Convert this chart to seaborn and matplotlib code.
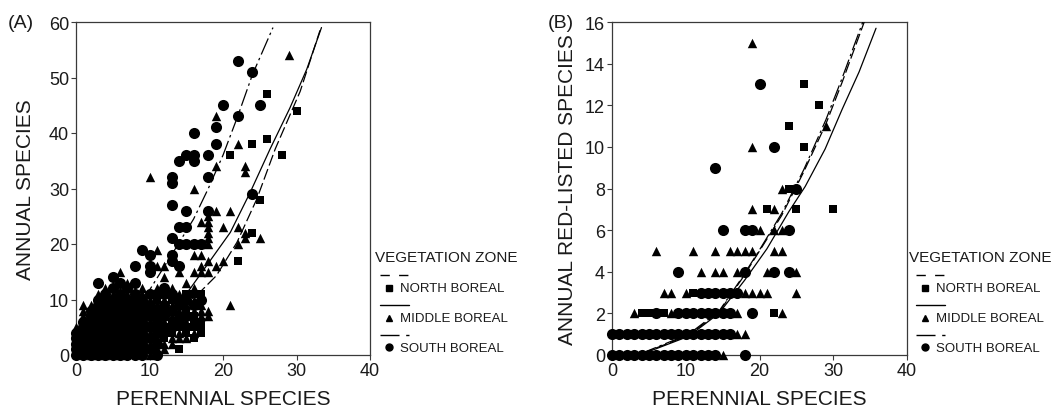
import matplotlib
matplotlib.use("Agg")
import matplotlib.pyplot as plt
import seaborn as sns
import pandas as pd
from matplotlib.lines import Line2D

sns.set_style("ticks")
plt.rcParams['font.family'] = ['Liberation Sans', 'DejaVu Sans']

# ---------------- data ----------------
zones = ["NORTH BOREAL", "MIDDLE BOREAL", "SOUTH BOREAL"]

# Panel A: (perennial, annual)
north_a = [(26, 47), (30, 44), (26, 39), (24, 38), (21, 36), (28, 36), (25, 28), (24, 22), (22, 17),
           (17, 11), (16, 11), (17, 10), (16, 9), (15, 10), (14, 9), (13, 10), (12, 8), (15, 7), (16, 6),
           (14, 6), (13, 5), (15, 5), (12, 3), (14, 1), (11, 6), (10, 8), (11, 10), (17, 6), (16, 3),
           (10, 1), (10, 5), (11, 4), (11, 7), (12, 4), (12, 7), (13, 4), (13, 6), (14, 5), (14, 7),
           (14, 10), (15, 4), (15, 8), (15, 11), (16, 5), (16, 7), (17, 5), (17, 4),
           (0, 1), (1, 3), (2, 2), (3, 1), (4, 4), (5, 3), (6, 2), (7, 5), (8, 4), (9, 3), (2, 6), (4, 8),
           (6, 6), (8, 8), (9, 9), (1, 0), (3, 5), (5, 9), (7, 1), (8, 0)]
middle_a = [(29, 54), (19, 43), (22, 38), (23, 34), (23, 33), (19, 34), (10, 32), (16, 30), (19, 26), (21, 26),
            (17, 24), (20, 23), (22, 23), (23, 22), (23, 21), (25, 21), (22, 20), (16, 18), (17, 18), (20, 17),
            (19, 16), (17, 16), (17, 15), (16, 15), (15, 13), (11, 19), (11, 16), (12, 16), (12, 14), (14, 15),
            (21, 9), (18, 20), (18, 21), (18, 22), (18, 23), (18, 24), (18, 25), (18, 15), (18, 17), (17, 8),
            (18, 7), (13, 3), (14, 3), (15, 3), (11, 1), (12, 2), (6, 15), (1, 8),
            (0, 3), (0, 5), (1, 1), (1, 5), (1, 7), (1, 9), (2, 0), (2, 4), (2, 8), (2, 9), (3, 3), (3, 7),
            (3, 9), (3, 11), (4, 0), (4, 2), (4, 6), (4, 10), (5, 1), (5, 5), (5, 7), (5, 11), (6, 0), (6, 4),
            (6, 8), (6, 10), (7, 3), (7, 7), (7, 9), (7, 11), (8, 2), (8, 6), (8, 10), (9, 1), (9, 5), (9, 7),
            (9, 11), (10, 0), (10, 2), (10, 4), (10, 6), (10, 10), (11, 3), (11, 5), (11, 9), (12, 1), (12, 6),
            (12, 10), (13, 2), (13, 7), (13, 9), (14, 4), (14, 8), (14, 11), (15, 6), (15, 9), (16, 4), (16, 8),
            (16, 10), (17, 7), (17, 9), (17, 11), (18, 8), (11, 12), (13, 12), (16, 12), (9, 12), (7, 13), (4, 12)]
south_a = [(22, 53), (24, 51), (20, 45), (25, 45), (22, 43), (19, 41), (16, 40), (19, 38), (14, 35), (15, 36),
           (16, 36), (16, 35), (18, 36), (13, 32), (13, 31), (18, 32), (24, 29), (13, 27), (15, 26), (18, 26),
           (14, 23), (15, 23), (13, 21), (14, 20), (15, 20), (16, 20), (17, 20), (9, 19), (10, 18), (13, 18),
           (13, 17), (14, 16), (8, 16), (10, 16), (10, 15), (12, 12), (3, 13), (5, 14), (8, 13),
           (0, 0), (0, 2), (0, 4), (1, 2), (1, 4), (1, 6), (2, 1), (2, 3), (2, 5), (2, 7), (3, 0), (3, 2),
           (3, 4), (3, 6), (3, 8), (3, 10), (4, 1), (4, 3), (4, 5), (4, 7), (4, 9), (4, 11), (5, 0), (5, 2),
           (5, 4), (5, 6), (5, 8), (5, 10), (5, 12), (6, 1), (6, 3), (6, 5), (6, 7), (6, 9), (6, 11), (6, 13),
           (7, 0), (7, 2), (7, 4), (7, 6), (7, 8), (7, 10), (7, 12), (8, 1), (8, 3), (8, 5), (8, 7), (8, 9),
           (8, 11), (9, 0), (9, 2), (9, 4), (9, 6), (9, 8), (9, 10), (10, 3), (10, 7), (10, 9), (11, 0),
           (11, 2), (11, 8), (12, 5), (12, 11), (13, 8),
           (0, 1), (0, 3), (1, 0), (1, 1), (1, 3), (1, 5), (2, 0), (2, 2), (2, 4), (2, 6), (2, 8),
           (3, 1), (3, 3), (3, 5), (3, 7), (3, 9), (4, 0), (4, 2), (4, 4), (4, 6), (4, 8), (4, 10),
           (5, 1), (5, 3), (5, 5), (5, 7), (5, 9), (6, 0), (6, 2), (6, 4), (6, 6), (6, 8), (6, 10),
           (7, 1), (7, 3), (7, 5), (7, 7), (7, 9), (8, 0), (8, 2), (8, 4), (8, 6), (8, 8), (8, 10),
           (9, 1), (9, 3), (9, 5), (9, 7), (9, 9),
           (10, 1), (10, 5), (10, 11), (11, 4), (11, 6), (12, 9), (13, 5), (14, 6), (14, 9), (15, 7),
           (15, 10), (16, 9), (17, 10), (11, 11), (13, 11), (12, 7)]

# Panel A fitted curves
curve_north_a = [(0, 0.5), (5, 2.5), (10, 5.0), (16.4, 10.7), (19.1, 14.3), (21.9, 20.3), (24.6, 28.1),
                 (27.1, 37.1), (30.5, 47.5), (33.2, 58.5)]
curve_middle_a = [(0, 1.0), (5, 3.0), (10, 6.0), (14.1, 9.5), (15.5, 11.9), (18.2, 16.9), (21.0, 22.1),
                  (23.7, 29.3), (26.4, 37.1), (29.1, 44.5), (31.4, 51.5), (33.4, 59.0)]
curve_south_a = [(0, 1.0), (5, 4.5), (10.1, 11.9), (13.5, 19.1), (16, 24.5), (18, 30.0), (20, 36.0),
                 (22, 43.0), (24, 50.5), (26.8, 59.0)]

# Panel B: (perennial, annual red-listed)
north_b = [(26, 13), (28, 12), (24, 11), (26, 10), (24, 8), (21, 7), (25, 7), (30, 7), (22, 2), (11, 3),
           (4, 2), (5, 2), (7, 2)]
middle_b = [(19, 15), (29, 11), (19, 10), (23, 8), (19, 7), (22, 7), (20, 6), (22, 6), (23, 6), (6, 5),
            (11, 5), (14, 5), (16, 5), (17, 5), (18, 5), (19, 5), (22, 5), (23, 5), (12, 4), (14, 4), (15, 4),
            (17, 4), (21, 4), (25, 4), (7, 3), (8, 3), (10, 3), (18, 3), (19, 3), (20, 3), (21, 3), (25, 3),
            (3, 2), (8, 2), (17, 2), (23, 2), (17, 1), (18, 1), (15, 0)]
south_b = [(20, 13), (22, 10), (14, 9), (25, 8), (15, 6), (18, 6), (19, 6), (24, 6), (9, 4), (18, 4), (22, 4),
           (24, 4), (12, 3), (13, 3), (14, 3), (15, 3), (16, 3), (17, 3),
           (6, 2), (9, 2), (10, 2), (11, 2), (12, 2), (13, 2), (14, 2), (15, 2), (16, 2), (19, 2),
           (0, 1), (1, 1), (2, 1), (3, 1), (4, 1), (5, 1), (6, 1), (7, 1), (8, 1), (9, 1), (10, 1), (11, 1),
           (12, 1), (13, 1), (14, 1), (15, 1), (16, 1),
           (0, 0), (1, 0), (2, 0), (3, 0), (4, 0), (5, 0), (6, 0), (7, 0), (8, 0), (9, 0), (10, 0), (11, 0),
           (12, 0), (13, 0), (14, 0), (18, 0)]

curve_north_b = [(0, 0.0), (4.5, 0.13), (10.4, 0.95), (14.5, 2.05), (17.6, 3.65), (20, 5.0), (23, 6.7),
                 (26, 8.8), (29, 11.1), (31.2, 13.1), (34.2, 16.0)]
curve_middle_b = [(0, 0.0), (4.5, 0.1), (10.4, 0.9), (14.5, 2.0), (18, 3.6), (21, 5.1), (24, 6.9),
                  (26.2, 8.1), (28.9, 9.9), (31.2, 11.8), (33.5, 13.6), (35.8, 15.7)]
curve_south_b = [(0, 0.0), (4.5, 0.15), (10.4, 1.0), (14.5, 2.1), (17.6, 3.7), (20, 5.05), (23, 6.8),
                 (26, 8.9), (29, 11.3), (31.2, 13.3), (34.0, 16.0)]

# ---------------- styling ----------------
W, H = 1062, 410
fig = plt.figure(figsize=(W / 100, H / 100), dpi=100)


def fx(px):
    return px / W


def fy(py):
    return 1 - py / H


axA = fig.add_axes([fx(76), fy(356), fx(370) - fx(76), fy(23) - fy(356)])
axB = fig.add_axes([fx(612), fy(356), fx(907) - fx(612), fy(23) - fy(356)])

marker_style = {"NORTH BOREAL": ("s", 36), "MIDDLE BOREAL": ("^", 46), "SOUTH BOREAL": ("o", 64)}
dash_style = {"NORTH BOREAL": (0, (9, 3)), "MIDDLE BOREAL": "-", "SOUTH BOREAL": (0, (14, 3, 2, 3))}
spine_col = "#3a3a3a"


def draw_panel(ax, pts_list, curves, ylim, yticks, ylabel, lpad):
    for zone, pts in zip(zones, pts_list):
        df = pd.DataFrame(pts, columns=["x", "y"])
        m, s = marker_style[zone]
        sns.scatterplot(data=df, x="x", y="y", marker=m, s=s, color="black", linewidth=0,
                        ax=ax, clip_on=False, zorder=3)
    for zone, cv in zip(zones, curves):
        dfc = pd.DataFrame(cv, columns=["x", "y"])
        sns.lineplot(data=dfc, x="x", y="y", color="black", lw=0.9, linestyle=dash_style[zone],
                     ax=ax, zorder=4, estimator=None)
    ax.set_xlim(0, 40)
    ax.set_ylim(*ylim)
    ax.set_xticks([0, 10, 20, 30, 40])
    ax.set_yticks(yticks)
    ax.tick_params(axis="both", direction="out", length=3.5, width=0.8, color=spine_col,
                   labelsize=13, pad=1.5, labelcolor="#1a1a1a")
    for sp in ax.spines.values():
        sp.set_visible(True)
        sp.set_color(spine_col)
        sp.set_linewidth(0.9)
    ax.set_xlabel("PERENNIAL SPECIES", fontsize=15, labelpad=7, color="#1a1a1a")
    ax.set_ylabel(ylabel, fontsize=15, labelpad=lpad, color="#1a1a1a")


draw_panel(axA, [north_a, middle_a, south_a], [curve_north_a, curve_middle_a, curve_south_a],
           (0, 60), [0, 10, 20, 30, 40, 50, 60], "ANNUAL SPECIES", 10)
draw_panel(axB, [north_b, middle_b, south_b], [curve_north_b, curve_middle_b, curve_south_b],
           (0, 16), list(range(0, 17, 2)), "ANNUAL RED-LISTED SPECIES", 6)

fig.text(fx(8), fy(24), "(A)", fontsize=14, va="center", ha="left", color="#1a1a1a")
fig.text(fx(548), fy(24), "(B)", fontsize=14, va="center", ha="left", color="#1a1a1a")

# ---------------- custom legends ----------------
leg_dash = {"NORTH BOREAL": (0, (6.7, 6.7)), "MIDDLE BOREAL": "-", "SOUTH BOREAL": (0, (13.7, 4.8, 2.4, 10))}
leg_marker = {"NORTH BOREAL": "s", "MIDDLE BOREAL": "^", "SOUTH BOREAL": "o"}


def draw_legend(x_head, x_line):
    fig.text(fx(x_head), fy(257.5), "VEGETATION ZONE", fontsize=11, va="center", ha="left", color="#1a1a1a")
    for i, zone in enumerate(zones):
        yl = 276 + 30 * i
        ym = 289 + 29.7 * i
        fig.add_artist(Line2D([fx(x_line), fx(x_line + 29)], [fy(yl), fy(yl)], color="black", lw=1.0,
                              linestyle=leg_dash[zone], transform=fig.transFigure))
        fig.add_artist(Line2D([fx(x_line + 9)], [fy(ym)], marker=leg_marker[zone], markersize=5,
                              color="black", linestyle="none", transform=fig.transFigure))
        fig.text(fx(x_line + 20), fy(ym + 0.5), zone, fontsize=9.5, va="center", ha="left", color="#1a1a1a")


draw_legend(375, 380)
draw_legend(909, 916)

fig.savefig("out.png", dpi=100)
